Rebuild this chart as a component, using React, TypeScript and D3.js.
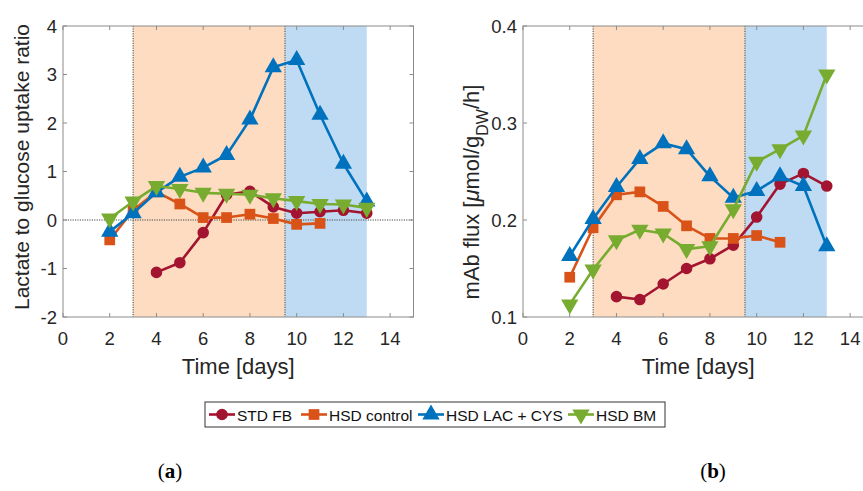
import React from "react";
import * as d3 from "d3";

// sampling days (x) shared by all series
const days = [2, 3, 4, 5, 6, 7, 8, 9, 10, 11, 12, 13];
const seriesNames = ["STD FB", "HSD control", "HSD LAC + CYS", "HSD BM"];
const seriesColors = ["#A2142F", "#D95319", "#0072BD", "#77AC30"];

// panel (a): lactate to glucose uptake ratio, null = not measured
const ratioStdFb = [null, null, -1.08, -0.88, -0.26, 0.52, 0.59, 0.27, 0.14, 0.17, 0.2, 0.14];
const ratioHsdControl = [-0.41, 0.2, 0.58, 0.33, 0.05, 0.05, 0.12, 0.03, -0.09, -0.07, null, null];
const ratioLacCys = [-0.24, 0.14, 0.57, 0.89, 1.08, 1.34, 2.07, 3.15, 3.3, 2.17, 1.16, 0.38];
const ratioBm = [0.03, 0.38, 0.7, 0.64, 0.56, 0.54, 0.52, 0.45, 0.39, 0.33, 0.32, 0.25];

// panel (b): mAb flux
const fluxStdFb = [null, null, 0.121, 0.118, 0.134, 0.15, 0.16, 0.174, 0.203, 0.237, 0.248, 0.235];
const fluxHsdControl = [0.141, 0.192, 0.226, 0.229, 0.214, 0.194, 0.181, 0.181, 0.184, 0.177, null, null];
const fluxLacCys = [0.163, 0.201, 0.234, 0.263, 0.279, 0.273, 0.245, 0.223, 0.23, 0.245, 0.235, 0.173];
const fluxBm = [0.113, 0.149, 0.179, 0.19, 0.186, 0.17, 0.173, 0.211, 0.26, 0.273, 0.287, 0.35];

const xTicks = [0, 2, 4, 6, 8, 10, 12, 14];
const ratioTicks = [-2, -1, 0, 1, 2, 3, 4];
const fluxTicks = [0.1, 0.2, 0.3, 0.4];
// feeding phases: orange from 3 to 9.5, blue from 9.5 to 13
const phaseEdges = [3, 9.5, 13];

const W = 863;
const H = 491;
const top = 26;
const bottom = 317;
const font = "'Liberation Sans', Arial, sans-serif";
const axisGray = "#8c8c8c";
const textGray = "#262626";

const symbolTypes = [d3.symbolCircle, d3.symbolSquare, d3.symbolTriangle, d3.symbolTriangle];
const symbolSizes = [105, 115, 130, 130];
const symbolRot = [0, 0, 0, 180];

function Marker({ i, x, y }) {
  const path = d3.symbol().type(symbolTypes[i]).size(symbolSizes[i])();
  return (
    <path
      d={path}
      fill={seriesColors[i]}
      transform={`translate(${x},${y}) rotate(${symbolRot[i]})`}
    />
  );
}

function Panel({ left, yDomain, yTicks, fmt, series, zeroLine, ylabel }) {
  const x = d3.scaleLinear().domain([0, 15]).range([left, left + 350.5]);
  const y = d3.scaleLinear().domain(yDomain).range([bottom, top]);
  const line = d3
    .line<any>()
    .defined((d) => d[1] != null)
    .x((d) => x(d[0]))
    .y((d) => y(d[1]));
  const x0 = x(0);
  const x1 = x(15);

  return (
    <g>
      <rect x={x(phaseEdges[0])} y={top} width={x(phaseEdges[1]) - x(phaseEdges[0])} height={bottom - top} fill="#FDDCC1" />
      <rect x={x(phaseEdges[1])} y={top} width={x(phaseEdges[2]) - x(phaseEdges[1])} height={bottom - top} fill="#BEDBF3" />
      {phaseEdges.slice(0, 2).map((e) => (
        <line key={e} x1={x(e)} x2={x(e)} y1={top} y2={bottom} stroke="#444" strokeWidth={1} strokeDasharray="1.2,1.2" />
      ))}
      {zeroLine && (
        <line x1={x0} x2={x1} y1={y(0)} y2={y(0)} stroke="#444" strokeWidth={1} strokeDasharray="1.2,1.2" />
      )}
      {/* box */}
      <rect x={x0} y={top} width={x1 - x0} height={bottom - top} fill="none" stroke={axisGray} strokeWidth={1} />
      {xTicks.map((t) => (
        <g key={"x" + t}>
          <line x1={x(t)} x2={x(t)} y1={bottom} y2={bottom - 4} stroke={axisGray} />
          <line x1={x(t)} x2={x(t)} y1={top} y2={top + 4} stroke={axisGray} />
          <text x={x(t)} y={bottom + 28} textAnchor="middle" fontSize={18.5} fill={textGray} fontFamily={font}>
            {t}
          </text>
        </g>
      ))}
      {yTicks.map((t) => (
        <g key={"y" + t}>
          <line x1={x0} x2={x0 + 4} y1={y(t)} y2={y(t)} stroke={axisGray} />
          <line x1={x1} x2={x1 - 4} y1={y(t)} y2={y(t)} stroke={axisGray} />
          <text x={x0 - 6} y={y(t) + 6.5} textAnchor="end" fontSize={18.5} fill={textGray} fontFamily={font}>
            {fmt(t)}
          </text>
        </g>
      ))}
      {series.map((vals, i) => {
        const pts = days.map((d, k) => [d, vals[k]]);
        return (
          <g key={i}>
            <path d={line(pts)} fill="none" stroke={seriesColors[i]} strokeWidth={2.6} strokeLinejoin="round" />
            {pts
              .filter((p) => p[1] != null)
              .map((p, k) => (
                <Marker key={k} i={i} x={x(p[0])} y={y(p[1])} />
              ))}
          </g>
        );
      })}
      <text x={x(7.5)} y={374} textAnchor="middle" fontSize={22} fill={textGray} fontFamily={font}>
        Time [days]
      </text>
      {ylabel}
    </g>
  );
}

const legendItems = [222, 314, 431, 581];

export default function App() {
  return (
    <svg width={W} height={H} style={{ position: "absolute", left: 0, top: 0, background: "#fff" }}>
      <Panel
        left={63}
        yDomain={[-2, 4]}
        yTicks={ratioTicks}
        fmt={(t) => String(t)}
        series={[ratioStdFb, ratioHsdControl, ratioLacCys, ratioBm]}
        zeroLine={true}
        ylabel={
          <text transform="translate(29,167) rotate(-90)" textAnchor="middle" fontSize={21} fill={textGray} fontFamily={font}>
            Lactate to glucose uptake ratio
          </text>
        }
      />
      <Panel
        left={523}
        yDomain={[0.1, 0.4]}
        yTicks={fluxTicks}
        fmt={d3.format(".1f")}
        series={[fluxStdFb, fluxHsdControl, fluxLacCys, fluxBm]}
        zeroLine={false}
        ylabel={
          <text transform="translate(479,192) rotate(-90)" textAnchor="middle" fontSize={22} fill={textGray} fontFamily={font}>
            mAb flux [<tspan fontStyle="italic">μ</tspan>mol/g
            <tspan baselineShift="sub" fontSize={16}>DW</tspan>/h]
          </text>
        }
      />
      {/* legend */}
      <rect x={205} y={402} width={460} height={25} fill="#fff" stroke="#333" strokeWidth={1} />
      {seriesNames.map((name, i) => {
        const cx = legendItems[i];
        return (
          <g key={name}>
            <line x1={cx - 13} x2={cx + 13} y1={414.5} y2={414.5} stroke={seriesColors[i]} strokeWidth={2.6} />
            <Marker i={i} x={cx} y={414.5} />
            <text x={cx + 15} y={420.5} fontSize={15.5} fill="#111" fontFamily={font}>
              {name}
            </text>
          </g>
        );
      })}
      <text x={170} y={478} textAnchor="middle" fontSize={21} fontFamily="'Liberation Serif', serif" fill="#000">
        (<tspan fontWeight="bold">a</tspan>)
      </text>
      <text x={713} y={478} textAnchor="middle" fontSize={21} fontFamily="'Liberation Serif', serif" fill="#000">
        (<tspan fontWeight="bold">b</tspan>)
      </text>
    </svg>
  );
}
